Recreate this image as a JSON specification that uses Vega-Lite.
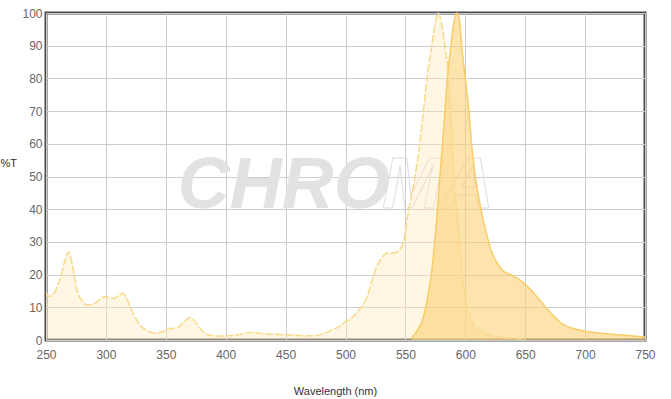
{
  "$schema": "https://vega.github.io/schema/vega-lite/v6.json",
  "width": 599,
  "height": 327,
  "autosize": "none",
  "padding": {"left": 46, "right": 26, "top": 13, "bottom": 59},
  "background": "white",
  "config": {
    "font": "Liberation Sans",
    "view": {"stroke": "#4a4a4a", "strokeWidth": 3},
    "axis": {"domain": false, "ticks": false, "labelFlush": false, "labelOverlap": false, "gridColor": "#cccccc", "gridWidth": 1, "labelColor": "#666666", "labelFontSize": 12, "labelFont": "Liberation Sans", "titleFont": "Liberation Sans", "titleFontWeight": "normal", "titleFontSize": 11, "titleColor": "#333333"}
  },
  "datasets": {
    "excitation": [
      {"nm": 250, "t": 14.5}, {"nm": 253, "t": 13.3}, {"nm": 257, "t": 14.5}, {"nm": 262, "t": 19}, {"nm": 266, "t": 24.5}, {"nm": 269, "t": 27}, {"nm": 272, "t": 23}, {"nm": 276, "t": 15}, {"nm": 280, "t": 12}, {"nm": 284, "t": 10.8}, {"nm": 288, "t": 10.8}, {"nm": 292, "t": 11.5}, {"nm": 297, "t": 13}, {"nm": 300, "t": 13.3}, {"nm": 304, "t": 12.7}, {"nm": 307, "t": 12.7}, {"nm": 310, "t": 13.5}, {"nm": 314, "t": 14.3}, {"nm": 317, "t": 13}, {"nm": 321, "t": 9.5}, {"nm": 325, "t": 6.5}, {"nm": 330, "t": 4}, {"nm": 335, "t": 2.8}, {"nm": 340, "t": 2.1}, {"nm": 345, "t": 2.3}, {"nm": 350, "t": 3}, {"nm": 355, "t": 3.5}, {"nm": 360, "t": 3.8}, {"nm": 365, "t": 5.5}, {"nm": 370, "t": 6.9}, {"nm": 374, "t": 5.8}, {"nm": 378, "t": 3.8}, {"nm": 383, "t": 2}, {"nm": 388, "t": 1.4}, {"nm": 395, "t": 1.2}, {"nm": 400, "t": 1.3}, {"nm": 406, "t": 1.4}, {"nm": 413, "t": 1.8}, {"nm": 420, "t": 2.3}, {"nm": 425, "t": 2.2}, {"nm": 430, "t": 2.0}, {"nm": 440, "t": 1.8}, {"nm": 450, "t": 1.6}, {"nm": 460, "t": 1.4}, {"nm": 470, "t": 1.3}, {"nm": 475, "t": 1.3}, {"nm": 480, "t": 1.8}, {"nm": 487, "t": 2.8}, {"nm": 495, "t": 4.2}, {"nm": 500, "t": 5.6}, {"nm": 505, "t": 6.7}, {"nm": 509, "t": 8.2}, {"nm": 514, "t": 10.5}, {"nm": 518, "t": 13.2}, {"nm": 522, "t": 18}, {"nm": 526, "t": 22.4}, {"nm": 530, "t": 25}, {"nm": 534, "t": 26.5}, {"nm": 540, "t": 26.6}, {"nm": 545, "t": 27.5}, {"nm": 549, "t": 31}, {"nm": 552, "t": 38}, {"nm": 555, "t": 44}, {"nm": 558, "t": 50}, {"nm": 562, "t": 60}, {"nm": 565, "t": 70}, {"nm": 568, "t": 80}, {"nm": 572, "t": 90}, {"nm": 575, "t": 97}, {"nm": 577.5, "t": 100}, {"nm": 580, "t": 97}, {"nm": 583, "t": 90}, {"nm": 586, "t": 80}, {"nm": 587.5, "t": 70}, {"nm": 589, "t": 60}, {"nm": 590, "t": 52}, {"nm": 593, "t": 40}, {"nm": 596, "t": 28}, {"nm": 598, "t": 18.3}, {"nm": 601, "t": 11}, {"nm": 605, "t": 6}, {"nm": 610, "t": 3.5}, {"nm": 615, "t": 2.3}, {"nm": 620, "t": 1.5}, {"nm": 626, "t": 1}, {"nm": 635, "t": 0.6}, {"nm": 650, "t": 0.4}
    ],
    "emission": [
      {"nm": 555, "t": 0.5}, {"nm": 560, "t": 3}, {"nm": 565, "t": 7}, {"nm": 570, "t": 16}, {"nm": 572, "t": 21}, {"nm": 575, "t": 32}, {"nm": 579, "t": 51}, {"nm": 581, "t": 60}, {"nm": 583, "t": 70}, {"nm": 585, "t": 80}, {"nm": 588, "t": 90}, {"nm": 590, "t": 96}, {"nm": 593, "t": 100}, {"nm": 595, "t": 98}, {"nm": 597, "t": 90}, {"nm": 600, "t": 80}, {"nm": 603, "t": 70}, {"nm": 605, "t": 61}, {"nm": 608, "t": 51}, {"nm": 612, "t": 42}, {"nm": 618, "t": 32}, {"nm": 622, "t": 27}, {"nm": 626, "t": 24}, {"nm": 632, "t": 21}, {"nm": 638, "t": 20}, {"nm": 643, "t": 19}, {"nm": 650, "t": 17}, {"nm": 658, "t": 14}, {"nm": 665, "t": 11}, {"nm": 672, "t": 8}, {"nm": 680, "t": 5.2}, {"nm": 690, "t": 3.5}, {"nm": 700, "t": 2.7}, {"nm": 710, "t": 2.2}, {"nm": 720, "t": 1.8}, {"nm": 730, "t": 1.5}, {"nm": 740, "t": 1.2}, {"nm": 750, "t": 0.9}
    ],
    "watermark": [
      {"nm": 360, "t": 40.4, "label": "CHRO", "part": "filled"},
      {"nm": 530.5, "t": 40.4, "label": "MA", "part": "outline"}
    ]
  },
  "encoding": {
    "x": {"field": "nm", "type": "quantitative", "scale": {"domain": [250, 750], "nice": false, "zero": false}, "axis": {"values": [250, 300, 350, 400, 450, 500, 550, 600, 650, 700, 750], "title": "Wavelength (nm)", "labelPadding": 9, "titleX": 289, "titleY": 51, "titleBaseline": "middle", "titleAnchor": null}},
    "y": {"field": "t", "type": "quantitative", "scale": {"domain": [0, 100], "nice": false}, "axis": {"values": [0, 10, 20, 30, 40, 50, 60, 70, 80, 90, 100], "title": "%T", "titleAngle": 0, "titleAlign": "left", "titleBaseline": "middle", "titleX": -46, "titleY": 150, "labelPadding": 4}}
  },
  "layer": [
    {
      "data": {"name": "watermark"},
      "transform": [{"filter": "datum.part == 'filled'"}],
      "mark": {"type": "text", "align": "left", "baseline": "alphabetic", "font": "Liberation Sans", "fontSize": 72, "fontWeight": "bold", "fontStyle": "italic", "fill": "#e2e2e2"},
      "encoding": {"text": {"field": "label"}}
    },
    {
      "data": {"name": "watermark"},
      "transform": [{"filter": "datum.part == 'outline'"}],
      "mark": {"type": "text", "align": "left", "baseline": "alphabetic", "font": "Liberation Sans", "fontSize": 72, "fontWeight": "bold", "fontStyle": "italic", "fill": "white", "fillOpacity": 0, "stroke": "#dcdce6", "strokeWidth": 1},
      "encoding": {"text": {"field": "label"}}
    },
    {
      "data": {"name": "excitation"},
      "mark": {"type": "area", "interpolate": "monotone", "color": "#ffe9b8", "opacity": 0.4},
      "encoding": {}
    },
    {
      "data": {"name": "emission"},
      "mark": {"type": "area", "interpolate": "monotone", "color": "#fcd077", "opacity": 0.6},
      "encoding": {}
    },
    {
      "data": {"name": "excitation"},
      "mark": {"type": "line", "interpolate": "monotone", "color": "#f9d98a", "strokeWidth": 1.5, "strokeDash": [8, 2]},
      "encoding": {}
    },
    {
      "data": {"name": "emission"},
      "mark": {"type": "line", "interpolate": "monotone", "color": "#f7cd66", "strokeWidth": 1.5},
      "encoding": {}
    }
  ]
}
